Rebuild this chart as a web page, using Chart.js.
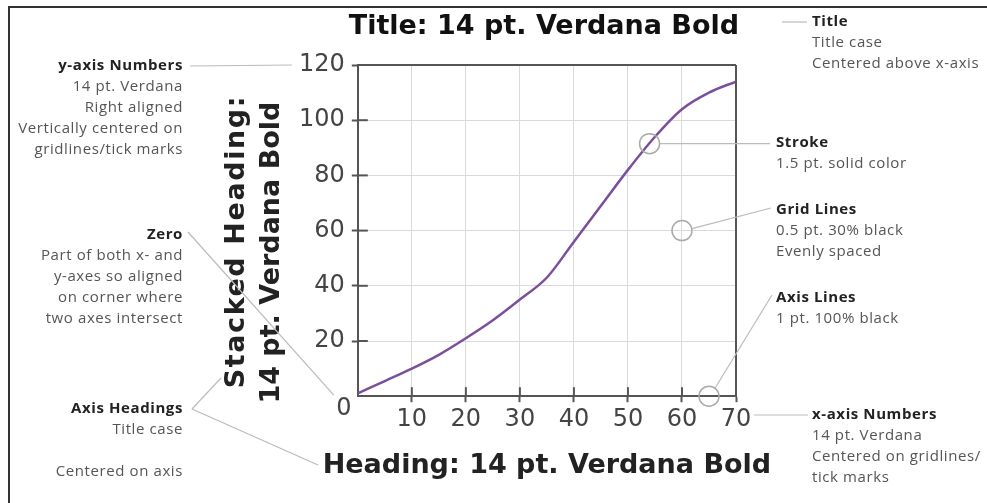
<!DOCTYPE html>
<html>
<head>
<meta charset="utf-8">
<script src="https://cdn.jsdelivr.net/npm/chart.js@4.4.1/dist/chart.umd.min.js"></script>
<style>
	body { margin: 0; background: #fff; }
	#wrap { position: relative; width: 987px; height: 503px; overflow: hidden; }
	#frame { position: absolute; left: 8px; top: 6px; width: 1000px; height: 520px; border-left: 2px solid #333; border-top: 2px solid #333; }
	canvas { position: absolute; left: 0; top: 0; }
</style>
</head>
<body>
<div id="wrap">
	<div id="frame"></div>
	<canvas id="mycanvas" width="987" height="503"></canvas>
</div>
<script>
// curve samples
var xValues = [0, 5, 10, 15, 20, 25, 30, 35, 40, 45, 50, 55, 60, 65, 70];
var yValues = [1, 5.5, 10, 15, 21, 27.5, 35, 43, 56, 69, 82, 94, 104, 110, 114];

// axis ticks
var xTicks = [0, 10, 20, 30, 40, 50, 60, 70];
var yTicks = [0, 20, 40, 60, 80, 100, 120];

var chartTitle = 'Title: 14 pt. Verdana Bold';
var xHeading = 'Heading: 14 pt. Verdana Bold';
var yHeading = ['Stacked Heading:', '14 pt. Verdana Bold'];

// callout notes
var notesLeft = [
	{ x: 183, y: 66, head: 'y-axis Numbers', lines: ['14 pt. Verdana', 'Right aligned', 'Vertically centered on', 'gridlines/tick marks'] },
	{ x: 183, y: 235, head: 'Zero', lines: ['Part of both x- and', 'y-axes so aligned', 'on corner where', 'two axes intersect'] },
	{ x: 183, y: 409, head: 'Axis Headings', lines: ['Title case', '', 'Centered on axis'] }
];
var notesRight = [
	{ x: 812, y: 22, head: 'Title', lines: ['Title case', 'Centered above x-axis'] },
	{ x: 776, y: 143, head: 'Stroke', lines: ['1.5 pt. solid color'] },
	{ x: 776, y: 210, head: 'Grid Lines', lines: ['0.5 pt. 30% black', 'Evenly spaced'] },
	{ x: 776, y: 298, head: 'Axis Lines', lines: ['1 pt. 100% black'] },
	{ x: 812, y: 415, head: 'x-axis Numbers', lines: ['14 pt. Verdana', 'Centered on gridlines/', 'tick marks'] }
];

var AXIS = '#555';
var NOTE_LINE = '#bbb';
var HEAD_FONT = 'bold 27px "DejaVu Sans"';

var points = [];
for (var i in xValues) {
	points.push({ x: xValues[i], y: yValues[i] });
}

function writeNote(ctx, n, align) {
	ctx.textAlign = align;
	ctx.textBaseline = 'middle';
	ctx.letterSpacing = '0.6px';
	ctx.font = 'bold 15px "Open Sans"';
	ctx.fillStyle = '#222';
	ctx.fillText(n.head, n.x, n.y);
	ctx.font = '15px "Open Sans"';
	ctx.fillStyle = '#555';
	for (var k = 0; k < n.lines.length; k++) {
		ctx.fillText(n.lines[k], n.x, n.y + 21 * (k + 1));
	}
	ctx.letterSpacing = '0px';
}

function line(ctx, x1, y1, x2, y2) {
	ctx.beginPath();
	ctx.moveTo(x1, y1);
	ctx.lineTo(x2, y2);
	ctx.stroke();
}

function ring(ctx, x, y) {
	ctx.beginPath();
	ctx.arc(x, y, 10, 0, Math.PI * 2);
	ctx.stroke();
}

// title and axis headings, centred on the plot box
var headings = {
	id: 'headings',
	afterDraw: function(chart) {
		var ctx = chart.ctx;
		var area = chart.chartArea;
		var midX = (area.left + area.right) / 2;
		var midY = (area.top + area.bottom) / 2;
		ctx.save();
		ctx.font = HEAD_FONT;
		ctx.textAlign = 'center';
		ctx.textBaseline = 'middle';
		ctx.fillStyle = '#111';
		ctx.fillText(chartTitle, midX - 3, area.top - 38);
		ctx.fillStyle = '#222';
		ctx.fillText(xHeading, midX, area.bottom + 70);

		ctx.translate(area.left - 121, midY + 11);
		ctx.rotate(-Math.PI / 2);
		ctx.letterSpacing = '1.6px';
		ctx.fillText(yHeading[0], 0, 0);
		ctx.letterSpacing = '0px';
		ctx.fillText(yHeading[1], -11, 35);
		ctx.restore();
	}
};

var callouts = {
	id: 'callouts',
	afterDraw: function(chart) {
		var ctx = chart.ctx;
		var area = chart.chartArea;
		var xs = chart.scales.x, ys = chart.scales.y;
		var px = function(v) { return xs.getPixelForValue(v); };
		var py = function(v) { return ys.getPixelForValue(v); };
		ctx.save();

		// top and right edges of the plot box
		ctx.strokeStyle = AXIS;
		ctx.lineWidth = 2;
		line(ctx, area.left, area.top, area.right, area.top);
		line(ctx, area.right, area.top, area.right, area.bottom);

		// tick marks reach inside the plot as well
		xTicks.forEach(function(v) {
			if (v > 0 && v < 70) line(ctx, px(v), area.bottom, px(v), area.bottom - 9);
		});
		yTicks.forEach(function(v) {
			if (v > 0 && v < 120) line(ctx, area.left, py(v), area.left + 10, py(v));
		});

		// shared zero at the corner
		ctx.font = '24px "DejaVu Sans"';
		ctx.fillStyle = '#444';
		ctx.textAlign = 'center';
		ctx.textBaseline = 'middle';
		var zx = px(0) - 14, zy = py(0) + 13;
		ctx.fillText('0', zx, zy);

		// leader lines and rings
		ctx.strokeStyle = NOTE_LINE;
		ctx.lineWidth = 1.2;
		line(ctx, 190, 66, px(0) - 66, py(120));
		line(ctx, 188, 232, zx - 10, zy - 14);
		line(ctx, 192, 409, 221, 378);
		line(ctx, 192, 409, 318, 465);
		line(ctx, 782, 22, 807, 22);

		ctx.strokeStyle = '#aaa';
		ctx.lineWidth = 1.5;
		var sx = px(54), sy = py(91.5);
		ring(ctx, sx, sy);
		var gx = px(60), gy = py(60);
		ring(ctx, gx, gy);
		var ax = px(65), ay = py(0);
		ring(ctx, ax, ay);

		ctx.strokeStyle = NOTE_LINE;
		ctx.lineWidth = 1.2;
		line(ctx, sx + 10, sy, 770, sy);
		line(ctx, gx + 10, gy - 2, 771, 208);
		line(ctx, ax + 6, ay - 8, 772, 295);
		line(ctx, px(70) + 18, 415, 808, 415);

		notesLeft.forEach(function(n) { writeNote(ctx, n, 'right'); });
		notesRight.forEach(function(n) { writeNote(ctx, n, 'left'); });
		ctx.restore();
	}
};

var ctx = document.getElementById('mycanvas');
var lineGraph = new Chart(ctx, {
	type: 'line',
	data: {
		datasets: [{
			data: points,
			borderColor: '#7a4f9c',
			borderWidth: 2.5,
			pointRadius: 0,
			cubicInterpolationMode: 'monotone',
			fill: false
		}]
	},
	options: {
		responsive: false,
		animation: false,
		devicePixelRatio: 1,
		layout: { padding: { left: 292, right: 251, top: 65, bottom: 66 } },
		plugins: {
			legend: { display: false },
			tooltip: { enabled: false },
			title: { display: false }
		},
		scales: {
			x: {
				type: 'linear',
				min: 0,
				max: 70,
				afterBuildTicks: function(s) { s.ticks = xTicks.map(function(v) { return { value: v }; }); },
				border: { color: AXIS, width: 2 },
				grid: {
					color: '#dadada',
					lineWidth: 1,
					tickLength: 6,
					tickWidth: 2,
					tickColor: function(c) { return c.tick && c.tick.value === 0 ? 'rgba(0,0,0,0)' : AXIS; }
				},
				ticks: {
					padding: 3,
					color: '#444',
					font: { family: 'DejaVu Sans', size: 24 },
					maxRotation: 0,
					callback: function(v) { return v === 0 ? '' : v; }
				}
			},
			y: {
				min: 0,
				max: 120,
				afterBuildTicks: function(s) { s.ticks = yTicks.map(function(v) { return { value: v }; }); },
				border: { color: AXIS, width: 2 },
				grid: {
					color: '#dadada',
					lineWidth: 1,
					tickLength: 6,
					tickWidth: 2,
					tickColor: function(c) { return c.tick && c.tick.value === 0 ? 'rgba(0,0,0,0)' : AXIS; }
				},
				ticks: {
					padding: 7,
					color: '#444',
					font: { family: 'DejaVu Sans', size: 24 },
					callback: function(v) { return v === 0 ? '' : v; }
				}
			}
		}
	},
	plugins: [headings, callouts]
});
</script>
</body>
</html>
